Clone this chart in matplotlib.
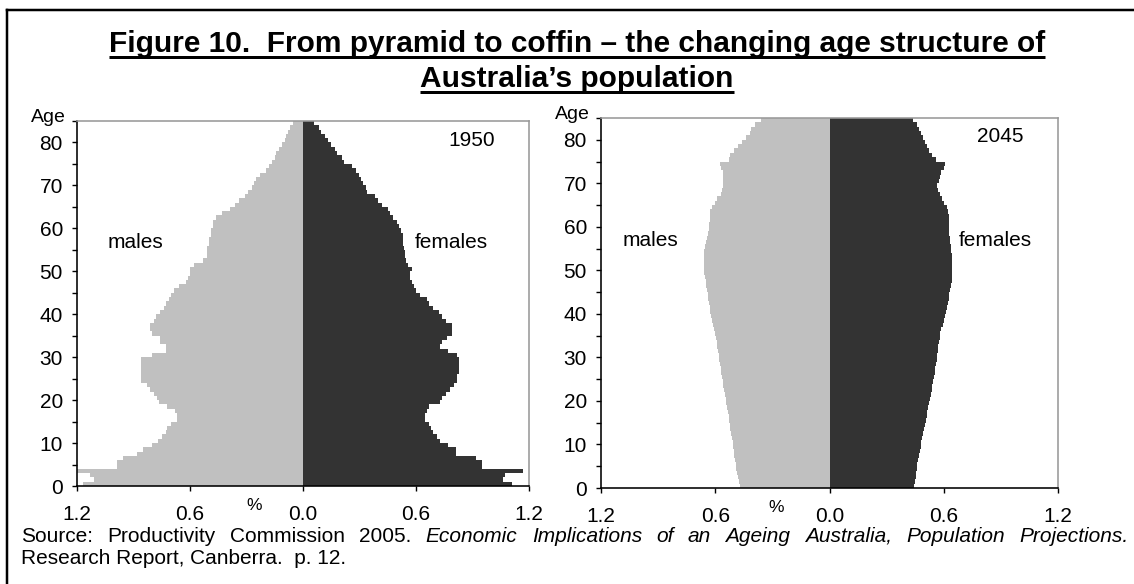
import matplotlib
matplotlib.use('Agg')
import matplotlib.pyplot as plt
from matplotlib.lines import Line2D

# ---------------- data ----------------
ages = list(range(85))  # single-year ages 0..84

males_1950 = [1.17, 1.11, 1.13, 1.20, 0.985, 0.985, 0.955, 0.88, 0.85, 0.80,
              0.77, 0.75, 0.73, 0.72, 0.70, 0.67, 0.67, 0.68, 0.72, 0.766,
              0.775, 0.79, 0.81, 0.83, 0.86, 0.86, 0.86, 0.86, 0.86, 0.86,
              0.80, 0.73, 0.73, 0.76, 0.76, 0.80, 0.81, 0.81, 0.79, 0.78,
              0.76, 0.74, 0.73, 0.71, 0.70, 0.685, 0.66, 0.62, 0.61, 0.60,
              0.60, 0.58, 0.53, 0.51, 0.51, 0.51, 0.50, 0.50, 0.49, 0.49,
              0.48, 0.48, 0.46, 0.43, 0.39, 0.36, 0.34, 0.31, 0.29, 0.27,
              0.26, 0.25, 0.23, 0.196, 0.18, 0.164, 0.151, 0.142, 0.125, 0.11,
              0.098, 0.089, 0.078, 0.068, 0.053]

females_1950 = [1.11, 1.06, 1.07, 1.17, 0.95, 0.95, 0.92, 0.81, 0.81, 0.77,
                0.73, 0.71, 0.69, 0.68, 0.67, 0.65, 0.65, 0.66, 0.67, 0.73,
                0.74, 0.76, 0.78, 0.80, 0.82, 0.82, 0.83, 0.83, 0.83, 0.83,
                0.82, 0.77, 0.73, 0.74, 0.765, 0.79, 0.79, 0.79, 0.76, 0.74,
                0.72, 0.69, 0.67, 0.66, 0.62, 0.60, 0.59, 0.58, 0.57, 0.57,
                0.58, 0.56, 0.545, 0.54, 0.54, 0.535, 0.53, 0.53, 0.53, 0.52,
                0.51, 0.50, 0.48, 0.46, 0.45, 0.42, 0.40, 0.38, 0.34, 0.335,
                0.32, 0.31, 0.30, 0.28, 0.26, 0.22, 0.205, 0.18, 0.169, 0.151,
                0.134, 0.116, 0.098, 0.085, 0.057]

males_2045 = [0.47, 0.475, 0.48, 0.485, 0.49, 0.49, 0.495, 0.50, 0.50, 0.505,
              0.505, 0.51, 0.515, 0.52, 0.525, 0.53, 0.53, 0.535, 0.54, 0.545,
              0.545, 0.55, 0.555, 0.56, 0.56, 0.565, 0.57, 0.57, 0.575, 0.58,
              0.58, 0.585, 0.59, 0.59, 0.595, 0.60, 0.605, 0.61, 0.615, 0.62,
              0.625, 0.63, 0.635, 0.64, 0.64, 0.645, 0.65, 0.65, 0.655, 0.66,
              0.66, 0.66, 0.66, 0.66, 0.66, 0.655, 0.65, 0.645, 0.64, 0.635,
              0.635, 0.63, 0.628, 0.625, 0.615, 0.60, 0.59, 0.57, 0.565, 0.56,
              0.56, 0.56, 0.56, 0.57, 0.575, 0.53, 0.52, 0.50, 0.48, 0.46,
              0.44, 0.42, 0.41, 0.39, 0.36]

females_2045 = [0.445, 0.448, 0.452, 0.455, 0.458, 0.462, 0.466, 0.47, 0.474, 0.478,
                0.482, 0.487, 0.492, 0.497, 0.502, 0.506, 0.51, 0.514, 0.518, 0.522,
                0.527, 0.532, 0.536, 0.54, 0.544, 0.548, 0.552, 0.556, 0.56, 0.563,
                0.566, 0.569, 0.572, 0.575, 0.578, 0.582, 0.588, 0.594, 0.60, 0.606,
                0.612, 0.617, 0.622, 0.626, 0.63, 0.635, 0.64, 0.645, 0.645, 0.645,
                0.645, 0.645, 0.645, 0.645, 0.64, 0.64, 0.635, 0.635, 0.63, 0.63,
                0.63, 0.625, 0.625, 0.62, 0.615, 0.60, 0.59, 0.58, 0.57, 0.565,
                0.575, 0.58, 0.585, 0.60, 0.605, 0.56, 0.54, 0.52, 0.51, 0.50,
                0.49, 0.48, 0.47, 0.46, 0.44]

x_ticks = [-1.2, -0.6, 0.0, 0.6, 1.2]
x_tick_labels = ['1.2', '0.6', '0.0', '0.6', '1.2']
y_major = [0, 10, 20, 30, 40, 50, 60, 70, 80]
y_minor = [5, 15, 25, 35, 45, 55, 65, 75, 85]

title_line1 = 'Figure 10.  From pyramid to coffin \u2013 the changing age structure of'
title_line2 = 'Australia\u2019s population'
source_normal = ['Source:', 'Productivity', 'Commission', '2005.']
source_italic = ['Economic', 'Implications', 'of', 'an', 'Ageing', 'Australia,',
                 'Population', 'Projections.']
source_line2 = 'Research Report, Canberra.  p. 12.'

# ---------------- figure ----------------
plt.rcParams['font.family'] = ['Liberation Sans', 'DejaVu Sans']
W, H = 1134, 584
fig = plt.figure(figsize=(W / 100, H / 100), dpi=100, facecolor='white')
PT = 0.72  # points per pixel at 100 dpi
FS = 15
MALE_C = '#c0c0c0'
FEMALE_C = '#333333'
renderer = fig.canvas.get_renderer()


def fx(x):
    return x / W


def fy(y):
    return 1 - y / H


def add_px_axes(x0, x1, ytop, ybot):
    return fig.add_axes([fx(x0), fy(ybot), (x1 - x0) / W, (ybot - ytop) / H])


def pyramid(ax, males, females, year, x0, ytop, year_xy, male_xy, fem_xy, pct_xy):
    ax.barh(ages, [-m for m in males], height=1.0, align='edge',
            color=MALE_C, linewidth=0)
    ax.barh(ages, females, height=1.0, align='edge',
            color=FEMALE_C, linewidth=0)
    ax.set_xlim(-1.2, 1.2)
    ax.set_ylim(0, 85)
    ax.set_xticks(x_ticks)
    ax.set_xticklabels(x_tick_labels)
    ax.set_yticks(y_major)
    ax.set_yticks(y_minor, minor=True)
    ax.tick_params(axis='both', which='both', direction='out', length=5 * PT,
                   width=1.4 * PT, labelsize=FS, colors='black')
    ax.tick_params(axis='y', which='both', pad=6.5)
    ax.tick_params(axis='x', which='both', pad=10)
    for s in ('left', 'bottom'):
        ax.spines[s].set_color('black')
        ax.spines[s].set_linewidth(1.6 * PT)
    for s in ('top', 'right'):
        ax.spines[s].set_color('#999999')
        ax.spines[s].set_linewidth(1.6 * PT)
    fig.text(fx(x0 - 11), fy(ytop + 1), 'Age', ha='right', va='baseline', fontsize=14)
    fig.text(fx(year_xy[0]), fy(year_xy[1]), year, ha='center', va='center', fontsize=FS)
    fig.text(fx(male_xy[0]), fy(male_xy[1]), 'males', ha='center', va='center', fontsize=FS)
    fig.text(fx(fem_xy[0]), fy(fem_xy[1]), 'females', ha='center', va='center', fontsize=FS)
    fig.text(fx(pct_xy[0]), fy(pct_xy[1]), '%', ha='center', va='center', fontsize=12.5)


axL = add_px_axes(77, 529, 121, 486)
pyramid(axL, males_1950, females_1950, '1950', 77, 121,
        (472, 140), (135, 242), (451, 242), (254, 505))
axR = add_px_axes(601, 1058, 118, 488)
pyramid(axR, males_2045, females_2045, '2045', 601, 118,
        (1000, 136), (650, 240), (995, 240), (776, 508))

# ---------------- frame lines ----------------
fig.add_artist(Line2D([fx(7), fx(1134)], [fy(10), fy(10)], color='black',
                      linewidth=2.5 * PT, transform=fig.transFigure))
fig.add_artist(Line2D([fx(7), fx(7)], [fy(10), fy(584)], color='black',
                      linewidth=2.5 * PT, transform=fig.transFigure))

# ---------------- title with underline ----------------
TITLE_FS = 21.5
for text, base in ((title_line1, 52), (title_line2, 87)):
    t = fig.text(fx(577), fy(base), text, ha='center', va='baseline',
                 fontsize=TITLE_FS, fontweight='bold')
    bb = t.get_window_extent(renderer)
    fig.add_artist(Line2D([bb.x0 / W, bb.x1 / W], [fy(base + 5), fy(base + 5)],
                          color='black', linewidth=3 * PT, solid_capstyle='butt',
                          transform=fig.transFigure))

# ---------------- source (justified first line) ----------------
SRC_FS = 15
objs = []
for w in source_normal:
    objs.append(fig.text(0, fy(542), w, ha='left', va='baseline', fontsize=SRC_FS))
for w in source_italic:
    objs.append(fig.text(0, fy(542), w, ha='left', va='baseline', fontsize=SRC_FS,
                         fontstyle='italic'))
widths = [o.get_window_extent(renderer).width for o in objs]
gap = (1128 - 21 - sum(widths)) / (len(objs) - 1)
xpos = 21
for o, wdt in zip(objs, widths):
    o.set_x(fx(xpos))
    xpos += wdt + gap
fig.text(fx(21), fy(564), source_line2, ha='left', va='baseline', fontsize=SRC_FS)

fig.savefig('out.png', dpi=100, facecolor='white')
